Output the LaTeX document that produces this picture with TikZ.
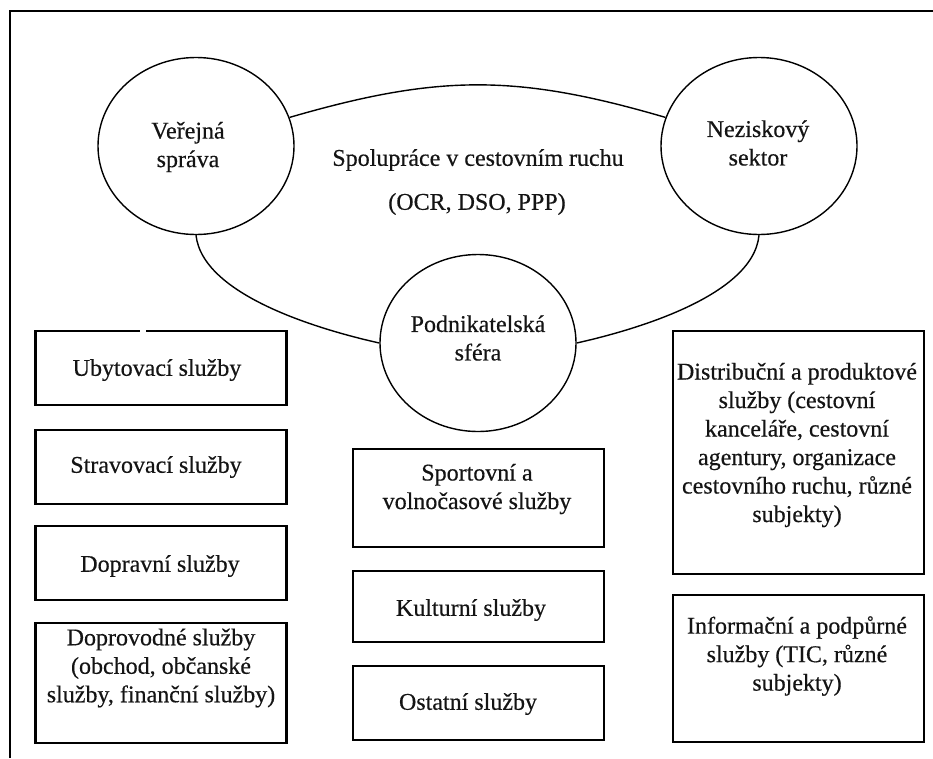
\documentclass[tikz,border=0pt]{standalone}
\usepackage{fontspec}
\setmainfont[FakeBold=0.4]{Liberation Serif}
\usetikzlibrary{shapes.geometric}
\begin{document}
\begin{tikzpicture}[x=1pt,y=-1pt,
  txt/.style={align=center, font=\fontsize{24}{28.5}\selectfont, inner sep=0pt, text=black!92},
  circ/.style={ellipse, draw, line width=1.4pt, minimum width=196pt, minimum height=177pt, inner sep=0pt},
  box/.style={draw, line width=2.2pt, inner sep=0pt, minimum width=251pt},
  link/.style={line width=1.4pt}]
\useasboundingbox (0,0) rectangle (933,758);
\fill[white] (0,0) rectangle (933,758);
% outer frame
\draw[line width=2pt] (10,758) -- (10,11) -- (933,11);

% ellipses
\node[circ] (vs) at (196,146) {};
\node[circ] (ns) at (759,146) {};
\node[circ] (ps) at (478,343) {};
\node[txt] (vst) at (188,147) {Veřejná\\správa};
\node[txt] (nst) at (758,143) {Neziskový\\sektor};
\node[txt] (pst) at (478,338) {Podnikatelská\\sféra};
\node[txt] (sp) at (478,160) {Spolupráce v cestovním ruchu};
\node[txt] (ocr) at (477,204) {(OCR, DSO, PPP)};

% connecting arcs
\draw[link] (vs.17) .. controls (439,74) and (517,74) .. (ns.163);
\draw[link] (vs.south) .. controls (203,298) and (330,332) .. (ps.west);
\draw[link] (ns.south) .. controls (753,298) and (626,332) .. (ps.east);

% left column
\node[box, minimum height=74pt] (b1) at (161,368) {};
\fill[white] (140,329) rectangle (146,333);
\node[box, minimum height=74pt] (b2) at (161,467) {};
\node[box, minimum height=74pt] (b3) at (161,563) {};
\node[box, minimum height=120pt] (b4) at (161,683) {};
\node[txt] (b1t) at (157,370) {Ubytovací služby};
\node[txt] (b2t) at (156,467) {Stravovací služby};
\node[txt] (b3t) at (160,566) {Dopravní služby};
\node[txt] (b4t) at (161,668) {Doprovodné služby\\(obchod, občanské\\služby, finanční služby)};

% middle column
\node[box, minimum height=98pt] (m1) at (478.5,498) {};
\node[box, minimum height=71pt] (m2) at (478.5,606.5) {};
\node[box, minimum height=74pt] (m3) at (478.5,703) {};
\node[txt] (m1t) at (477,489) {Sportovní a\\volnočasové služby};
\node[txt] (m2t) at (471,610) {Kulturní služby};
\node[txt] (m3t) at (468,704) {Ostatní služby};

% right column
\node[box, minimum height=243pt] (r1) at (798.5,452.5) {};
\node[box, minimum height=147pt] (r2) at (798.5,668.5) {};
\node[txt] (r1t) at (797,445) {Distribuční a produktové\\služby (cestovní\\kanceláře, cestovní\\agentury, organizace\\cestovního ruchu, různé\\subjekty)};
\node[txt] (r2t) at (797,656) {Informační a podpůrné\\služby (TIC, různé\\subjekty)};
\end{tikzpicture}
\end{document}
